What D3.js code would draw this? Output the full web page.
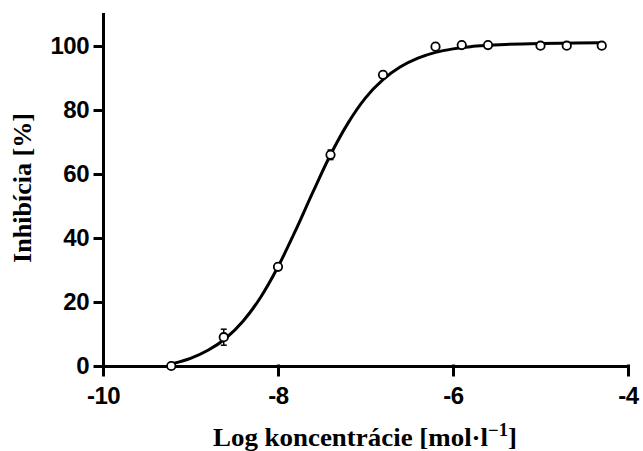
<!DOCTYPE html>
<html>
<head>
<meta charset="utf-8">
<script src="https://cdn.jsdelivr.net/npm/d3@7"></script>
<style>
  body { margin: 0; background: #fff; }
</style>
</head>
<body>
<div id="chart"></div>
<script>
// measured points
const logConc = [-9.22, -8.62, -8.0, -7.4, -6.8, -6.2, -5.9, -5.6, -5.0, -4.7, -4.3];
const inhibition = [0, 9, 31, 66, 91, 99.8, 100.3, 100.3, 100.1, 100.1, 100.1];
const errors = [0.5, 2.5, 1, 1.5, 1, 0.5, 0.3, 0.3, 0.3, 0.3, 0.3];

// fitted curve
const curveX = [-9.2, -9.0, -8.8, -8.6, -8.4, -8.2, -8.0, -7.8, -7.6, -7.4, -7.2, -7.0,
  -6.8, -6.6, -6.4, -6.2, -6.0, -5.8, -5.6, -5.4, -5.0, -4.6, -4.3];
const curveY = [0.8, 2.4, 4.9, 8.6, 14.0, 21.4, 31.0, 42.3, 54.4, 66.0, 75.9, 83.8,
  89.5, 93.5, 96.2, 98.0, 99.1, 99.8, 100.2, 100.5, 100.8, 100.9, 101.0];

const xTicks = [-10, -8, -6, -4];
const yTicks = [0, 20, 40, 60, 80, 100];

const width = 643, height = 451;

const svg = d3.select("#chart").append("svg")
  .attr("width", width)
  .attr("height", height);

const x = d3.scaleLinear().domain([-10, -4]).range([103, 628]);
const y = d3.scaleLinear().domain([0, 110]).range([366, 14]);

const tickFont = "'Liberation Sans', Arial, sans-serif";
const titleFont = "'Liberation Serif', 'Times New Roman', serif";

// axes
const gx = svg.append("g")
  .attr("transform", `translate(0,${y(0)})`)
  .call(d3.axisBottom(x).tickValues(xTicks).tickFormat(d => String(d))
    .tickSize(9).tickSizeOuter(0).tickPadding(12));

const gy = svg.append("g")
  .attr("transform", `translate(${x(-10)},0)`)
  .call(d3.axisLeft(y).tickValues(yTicks).tickFormat(d => String(d))
    .tickSize(8).tickSizeOuter(0).tickPadding(6));

[gx, gy].forEach(g => {
  g.selectAll("path, line")
    .attr("stroke", "#000")
    .attr("stroke-width", 3)
    .attr("stroke-linecap", "square");
  g.selectAll("text")
    .attr("fill", "#000")
    .attr("font-family", tickFont)
    .attr("font-weight", "bold")
    .attr("font-size", 24)
    .attr("letter-spacing", -0.5);
});

// fitted curve
const line = d3.line()
  .x((d, i) => x(curveX[i]))
  .y(d => y(d))
  .curve(d3.curveMonotoneX);

svg.append("path")
  .datum(curveY)
  .attr("d", line)
  .attr("fill", "none")
  .attr("stroke", "#000")
  .attr("stroke-width", 3);

// error bars
const pts = logConc.map((v, i) => ({ x: v, y: inhibition[i], e: errors[i] }));

const eb = svg.append("g")
  .attr("stroke", "#000")
  .attr("stroke-width", 1.5)
  .selectAll("g")
  .data(pts)
  .join("g");

eb.append("line")
  .attr("x1", d => x(d.x)).attr("x2", d => x(d.x))
  .attr("y1", d => y(d.y - d.e)).attr("y2", d => y(d.y + d.e));
eb.append("line")
  .attr("x1", d => x(d.x) - 3).attr("x2", d => x(d.x) + 3)
  .attr("y1", d => y(d.y + d.e)).attr("y2", d => y(d.y + d.e));
eb.append("line")
  .attr("x1", d => x(d.x) - 3).attr("x2", d => x(d.x) + 3)
  .attr("y1", d => y(d.y - d.e)).attr("y2", d => y(d.y - d.e));

// points
svg.append("g")
  .selectAll("circle")
  .data(pts)
  .join("circle")
  .attr("cx", d => x(d.x))
  .attr("cy", d => y(d.y))
  .attr("r", 4.2)
  .attr("fill", "#fff")
  .attr("stroke", "#000")
  .attr("stroke-width", 1.8);

// axis titles
const xt = svg.append("text")
  .attr("x", 365)
  .attr("y", 446)
  .attr("text-anchor", "middle")
  .attr("font-family", titleFont)
  .attr("font-weight", "bold")
  .attr("font-size", 26)
  .attr("textLength", 304)
  .attr("lengthAdjust", "spacingAndGlyphs");
xt.append("tspan").text("Log koncentrácie [mol·l");
xt.append("tspan").attr("dy", -10).attr("font-size", 18).text("\u22121");
xt.append("tspan").attr("dy", 10).text("]");

svg.append("text")
  .attr("transform", "translate(31,188) rotate(-90)")
  .attr("text-anchor", "middle")
  .attr("font-family", titleFont)
  .attr("font-weight", "bold")
  .attr("font-size", 26)
  .attr("textLength", 150)
  .attr("lengthAdjust", "spacingAndGlyphs")
  .text("Inhibícia [%]");
</script>
</body>
</html>
